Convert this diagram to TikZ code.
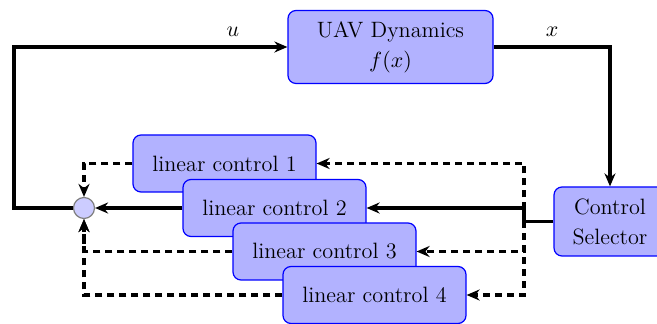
\documentclass[tikz,border=0pt]{standalone}
\usetikzlibrary{arrows.meta}
\begin{document}
\begin{tikzpicture}[x=0.5pt,y=-0.5pt,
  every node/.style={font=\fontsize{11.1}{15}\selectfont},
  block/.style={draw=blue, fill=blue!30, rounded corners=4pt, line width=0.6pt,
                inner sep=0pt, align=center},
  ctrl/.style={block, minimum width=91.5pt, minimum height=28.5pt},
  sumnode/.style={circle, draw=gray, fill=blue!20, line width=0.6pt,
                  minimum size=10.5pt, inner sep=0pt},
  sig/.style={line width=1.85pt, -{Stealth[length=6.5pt,width=5.5pt]}},
  alt/.style={sig, dash pattern=on 3.5pt off 2.5pt}]
\useasboundingbox (0,0) rectangle (657,324);

% plant and selector
\node[block, minimum width=102.5pt, minimum height=36.5pt] (uav) at (390.5,47)
  {UAV Dynamics\\$f(x)$};
\node[block, minimum width=56pt, minimum height=34.5pt] (sel) at (610,221.5)
  {Control\\Selector};

% stacked linear controllers
\node[ctrl] (c1) at (224.5,163.5) {linear control 1};
\node[ctrl] (c2) at (274.5,208) {linear control 2};
\node[ctrl] (c3) at (324.5,251.5) {linear control 3};
\node[ctrl] (c4) at (374.5,295) {linear control 4};

% summing junction
\node[sumnode] (s) at (84,208) {};

% helper columns
\coordinate (fbx) at (14,0);
\coordinate (bus) at (524,0);

% main loop
\draw[sig] (s.west) -- (fbx |- s.west) |- (uav.west);
\draw[sig] (uav.east) -| (sel.north);
\node at (233,32) {$u$};
\node at (552,32) {$x$};

% selector outputs
\draw[sig] (sel.west) -- (bus |- sel.west) |- (c2.east);
\draw[alt] (bus |- sel.west) |- (c1.east);
\draw[alt] (bus |- sel.west) |- (c3.east);
\draw[alt] (bus |- sel.west) |- (c4.east);

% controller outputs into the junction
\draw[alt] (c1.west) -| (s.north);
\draw[sig] (c2.west) -- (s.east);
\draw[alt] (c3.west) -| (s.south);
\draw[alt] (c4.west) -| (s.south);
\end{tikzpicture}
\end{document}
